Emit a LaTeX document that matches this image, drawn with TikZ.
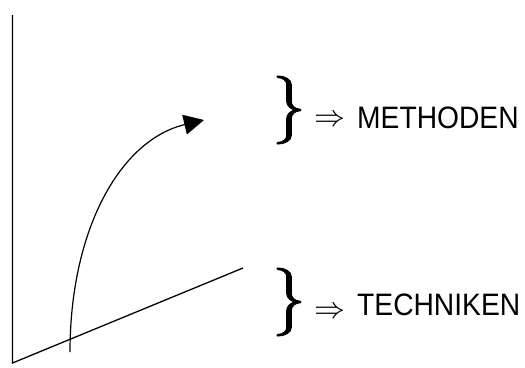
\documentclass[tikz,border=0pt]{standalone}
\usepackage{fontspec}
\setmainfont{Liberation Sans}[FakeStretch=0.91]
\newfontfamily\lmm{Latin Modern Math}
\newfontfamily\lmmbold{Latin Modern Math}[FakeBold=1.5]
\usetikzlibrary{arrows.meta}
\begin{document}
\begin{tikzpicture}[x=1pt,y=-1pt,
  axis/.style={line width=1.3pt},
  label/.style={anchor=base west,inner sep=0pt,font=\fontsize{31}{31}\selectfont},
  bracenode/.style={inner sep=0pt,font=\lmmbold\fontsize{68}{68}\selectfont},
  implies/.style={inner sep=0pt,font=\lmm\fontsize{31}{31}\selectfont}]
\useasboundingbox (0,0) rectangle (525,367);
\coordinate (top) at (12.5,15);
\coordinate (origin) at (12.5,363);
\coordinate (right) at (243,268);
\coordinate (cstart) at (70,352);
\coordinate (cend) at (204,120);
\draw[axis] (top) -- (origin) -- (right);
\draw[line width=1.2pt,-{Triangle[length=20pt,width=20pt]}] (cstart) .. controls (70,230) and (120,140) .. (cend);
% upper group
\node[bracenode] (b1) at (289,110) {\}};
\node[implies] (i1) at (330,119) {⇒};
\node[label] (m) at (357,128) {METHODEN};
% lower group
\node[bracenode] (b2) at (289,302) {\}};
\node[implies] (i2) at (330,311) {⇒};
\node[label] (t) at (357,315) {TECHNIKEN};
\end{tikzpicture}
\end{document}
